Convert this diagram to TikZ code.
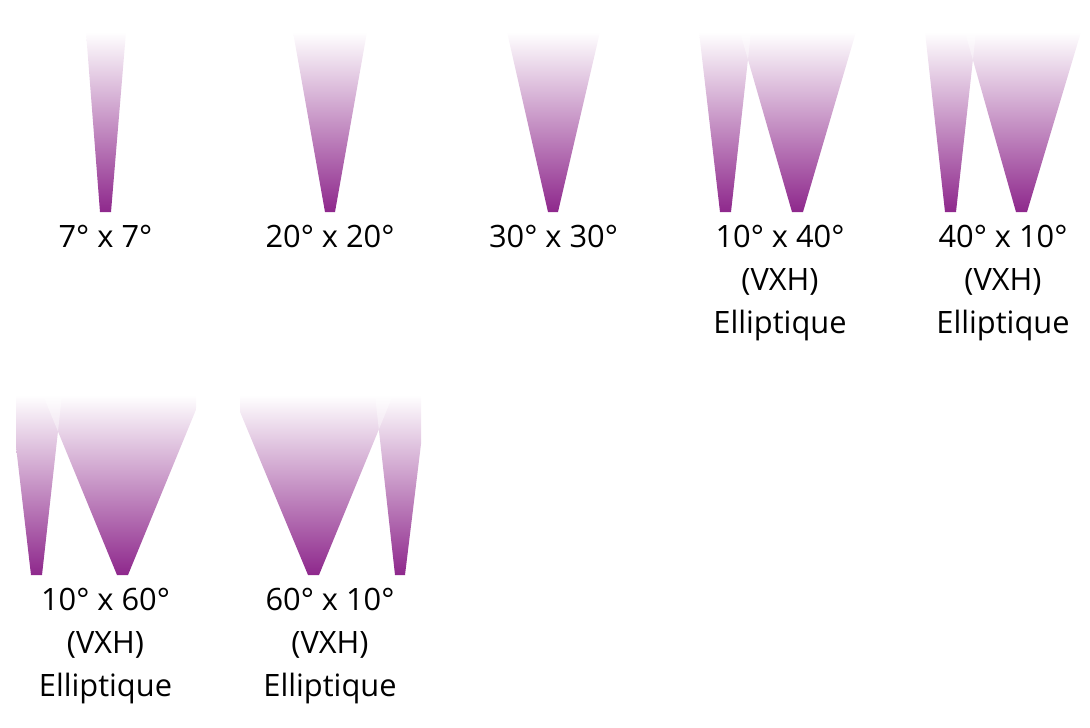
\documentclass[tikz,border=0pt]{standalone}
\usepackage{fontspec}
\setmainfont{Open Sans}
\usetikzlibrary{positioning}
\definecolor{beampurple}{RGB}{142,40,140}

\begin{document}
\begin{tikzpicture}[x=0.75pt,y=-0.75pt,
	beam/.style={top color=white, bottom color=beampurple},
	overlap/.style={fill=white, fill opacity=0.4},
	lbl/.style={font=\fontsize{23.1}{32.25}\selectfont, anchor=north, inner sep=0pt, align=center}]
	\useasboundingbox (0,0) rectangle (1090,728);
	
	% Round beams, top row
	\shade[beam] (86,32) -- (126,32) -- (111,212) -- (100,212) -- cycle;
	\node[lbl] (lblseven) at (105.5,225) {7° x 7°};
	
	\shade[beam] (293,32) -- (367,32) -- (335,212) -- (325,212) -- cycle;
	\node[lbl] (lbltwenty) at (330,225) {20° x 20°};
	
	\shade[beam] (507,32) -- (600,32) -- (558,212) -- (548,212) -- cycle;
	\node[lbl] (lblthirty) at (553.5,225) {30° x 30°};
	
	% Elliptic beams, top row (narrow one over the wide one)
	\shade[beam] (740,32) -- (856,32) -- (803,212) -- (792,212) -- cycle;
	\shade[beam] (699,32) -- (751,32) -- (731,212) -- (720,212) -- cycle;
	\begin{scope}
		\clip (699,32) -- (751,32) -- (731,212) -- (720,212) -- cycle;
		\fill[overlap] (740,32) -- (856,32) -- (803,212) -- (792,212) -- cycle;
	\end{scope}
	\node[lbl] (lbltenforty) at (780,225) {10° x 40°\\(VXH)\\Elliptique};
	
	\shade[beam] (965,32) -- (1081,32) -- (1027,212) -- (1016,212) -- cycle;
	\shade[beam] (925,32) -- (976,32) -- (956,212) -- (945,212) -- cycle;
	\begin{scope}
		\clip (925,32) -- (976,32) -- (956,212) -- (945,212) -- cycle;
		\fill[overlap] (965,32) -- (1081,32) -- (1027,212) -- (1016,212) -- cycle;
	\end{scope}
	\node[lbl] (lblfortyten) at (1003,225) {40° x 10°\\(VXH)\\Elliptique};
	
	% Elliptic beams, bottom row (cut at the sides)
	\begin{scope}
		\clip (16,395) rectangle (196,575);
		\shade[beam] (43,395) -- (202,395) -- (128,575) -- (117,575) -- cycle;
		\shade[beam] (10,395) -- (62,395) -- (42,575) -- (31,575) -- cycle;
		\clip (10,395) -- (62,395) -- (42,575) -- (31,575) -- cycle;
		\fill[overlap] (43,395) -- (202,395) -- (128,575) -- (117,575) -- cycle;
	\end{scope}
	\node[lbl] (lbltensixty) at (105.5,588) {10° x 60°\\(VXH)\\Elliptique};
	
	\begin{scope}
		\clip (240,395) rectangle (421,575);
		\shade[beam] (233,395) -- (393,395) -- (319,575) -- (308,575) -- cycle;
		\shade[beam] (375,395) -- (427,395) -- (405,575) -- (395,575) -- cycle;
		\clip (375,395) -- (427,395) -- (405,575) -- (395,575) -- cycle;
		\fill[overlap] (233,395) -- (393,395) -- (319,575) -- (308,575) -- cycle;
	\end{scope}
	\node[lbl] (lblsixtyten) at (330,588) {60° x 10°\\(VXH)\\Elliptique};
\end{tikzpicture}
\end{document}
